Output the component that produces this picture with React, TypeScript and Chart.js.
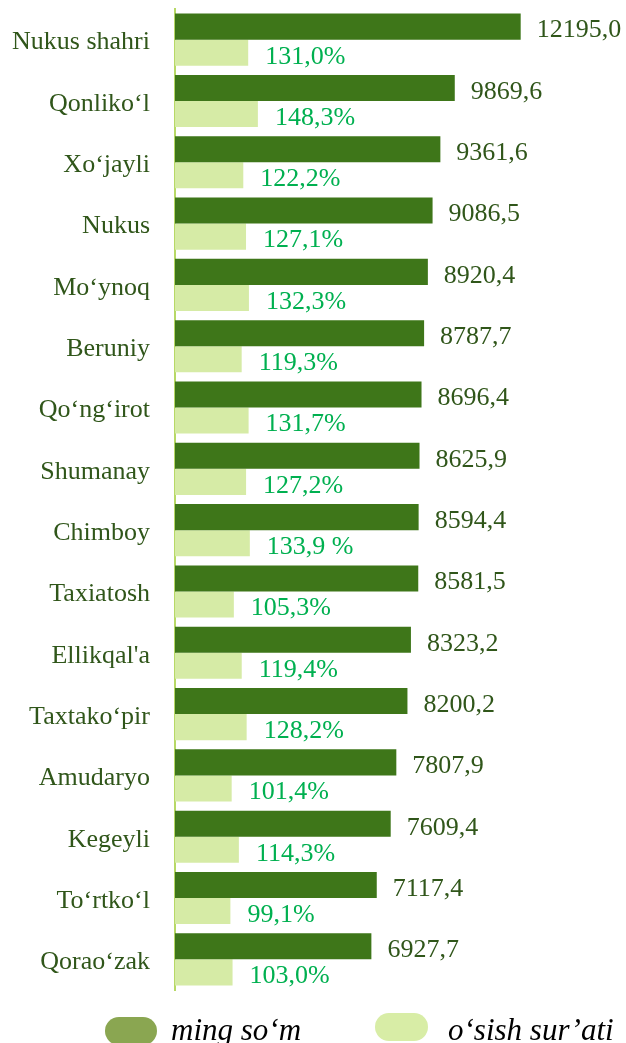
import React, { useEffect, useRef } from "react";
import { Chart, registerables } from "chart.js";

Chart.register(...registerables);

const categories = [
  "Nukus shahri",
  "Qonliko‘l",
  "Xo‘jayli",
  "Nukus",
  "Mo‘ynoq",
  "Beruniy",
  "Qo‘ng‘irot",
  "Shumanay",
  "Chimboy",
  "Taxiatosh",
  "Ellikqal'a",
  "Taxtako‘pir",
  "Amudaryo",
  "Kegeyli",
  "To‘rtko‘l",
  "Qorao‘zak",
];

const amounts = [
  12195.0, 9869.6, 9361.6, 9086.5, 8920.4, 8787.7, 8696.4, 8625.9, 8594.4,
  8581.5, 8323.2, 8200.2, 7807.9, 7609.4, 7117.4, 6927.7,
];

const growth = [
  131.0, 148.3, 122.2, 127.1, 132.3, 119.3, 131.7, 127.2, 133.9, 105.3, 119.4,
  128.2, 101.4, 114.3, 99.1, 103.0,
];

const amountLabels = [
  "12195,0", "9869,6", "9361,6", "9086,5", "8920,4", "8787,7", "8696,4",
  "8625,9", "8594,4", "8581,5", "8323,2", "8200,2", "7807,9", "7609,4",
  "7117,4", "6927,7",
];

const growthLabels = [
  "131,0%", "148,3%", "122,2%", "127,1%", "132,3%", "119,3%", "131,7%",
  "127,2%", "133,9 %", "105,3%", "119,4%", "128,2%", "101,4%", "114,3%",
  "99,1%", "103,0%",
];

const seriesNames = ["ming so‘m", "o‘sish sur’ati"];

const BAR_DARK = "#3E7619";
const BAR_LIGHT = "#D6EBA6";
const LEGEND_DARK = "#8AA651";
const LEGEND_LIGHT = "#D8EDA6";
const LABEL_DARK = "#30561A";
const LABEL_PCT = "#00B050";
const SERIF = '"Liberation Serif", "Times New Roman", serif';

const valueLabelsPlugin = {
  id: "valueLabels",
  afterDatasetsDraw(chart: any) {
    const ctx = chart.ctx;
    ctx.save();
    ctx.font = `26px ${SERIF}`;
    ctx.textBaseline = "middle";
    ctx.textAlign = "left";
    const cfg = [
      { labels: amountLabels, color: LABEL_DARK, offset: 16 },
      { labels: growthLabels, color: LABEL_PCT, offset: 17 },
    ];
    chart.data.datasets.forEach((_ds: any, i: number) => {
      const meta = chart.getDatasetMeta(i);
      const c = cfg[i];
      ctx.fillStyle = c.color;
      meta.data.forEach((el: any, j: number) => {
        ctx.fillText(c.labels[j], el.x + c.offset, el.y + 4);
      });
    });
    ctx.restore();
  },
};

const customLegendPlugin = {
  id: "customLegend",
  afterDraw(chart: any) {
    const ctx = chart.ctx;
    const base = chart.chartArea.bottom;
    const items = [
      { color: LEGEND_DARK, boxX: 105, boxY: base + 27, boxW: 52, textX: 171 },
      { color: LEGEND_LIGHT, boxX: 375, boxY: base + 23, boxW: 53, textX: 448 },
    ];
    ctx.save();
    items.forEach((it, i) => {
      ctx.fillStyle = it.color;
      ctx.beginPath();
      ctx.roundRect(it.boxX, it.boxY, it.boxW, 28, 14);
      ctx.fill();
      ctx.fillStyle = "#000000";
      ctx.font = `italic 31px ${SERIF}`;
      ctx.textBaseline = "alphabetic";
      ctx.textAlign = "left";
      ctx.fillText(chart.data.datasets[i].label, it.textX, base + 50);
    });
    ctx.restore();
  },
};

export default function App() {
  const canvasRef = useRef<HTMLCanvasElement | null>(null);

  useEffect(() => {
    if (!canvasRef.current) return;
    const chart = new Chart(canvasRef.current, {
      type: "bar",
      data: {
        labels: categories,
        datasets: [
          {
            label: seriesNames[0],
            data: amounts,
            backgroundColor: BAR_DARK,
            xAxisID: "x",
            borderWidth: 0,
          },
          {
            label: seriesNames[1],
            data: growth,
            backgroundColor: BAR_LIGHT,
            xAxisID: "x2",
            borderWidth: 0,
          },
        ],
      },
      options: {
        indexAxis: "y",
        responsive: false,
        animation: false,
        events: [],
        layout: { padding: { top: 9, bottom: 53, left: 0, right: 0 } },
        datasets: {
          bar: { categoryPercentage: 0.85, barPercentage: 1.0 },
        },
        scales: {
          x: { display: false, min: 0, max: 15910 },
          x2: { display: false, min: 0, max: 807, position: "bottom" },
          y: {
            afterFit: (scale: any) => {
              scale.width = 175;
              scale.paddingTop = 0;
              scale.paddingBottom = 0;
            },
            grid: { display: false, drawTicks: false },
            border: { display: true, color: "#B7D866", width: 2 },
            ticks: {
              padding: 25,
              labelOffset: 3,
              color: LABEL_DARK,
              font: { family: SERIF, size: 26 },
            },
          },
        },
        plugins: {
          legend: { display: false },
          tooltip: { enabled: false },
        },
      },
      plugins: [valueLabelsPlugin, customLegendPlugin],
    });
    return () => chart.destroy();
  }, []);

  return (
    <div
      style={{
        position: "fixed",
        left: 0,
        top: 0,
        width: 626,
        height: 1043,
        overflow: "hidden",
        background: "#ffffff",
      }}
    >
      <canvas
        ref={canvasRef}
        width={626}
        height={1043}
        style={{ display: "block", width: 626, height: 1043 }}
      />
    </div>
  );
}
